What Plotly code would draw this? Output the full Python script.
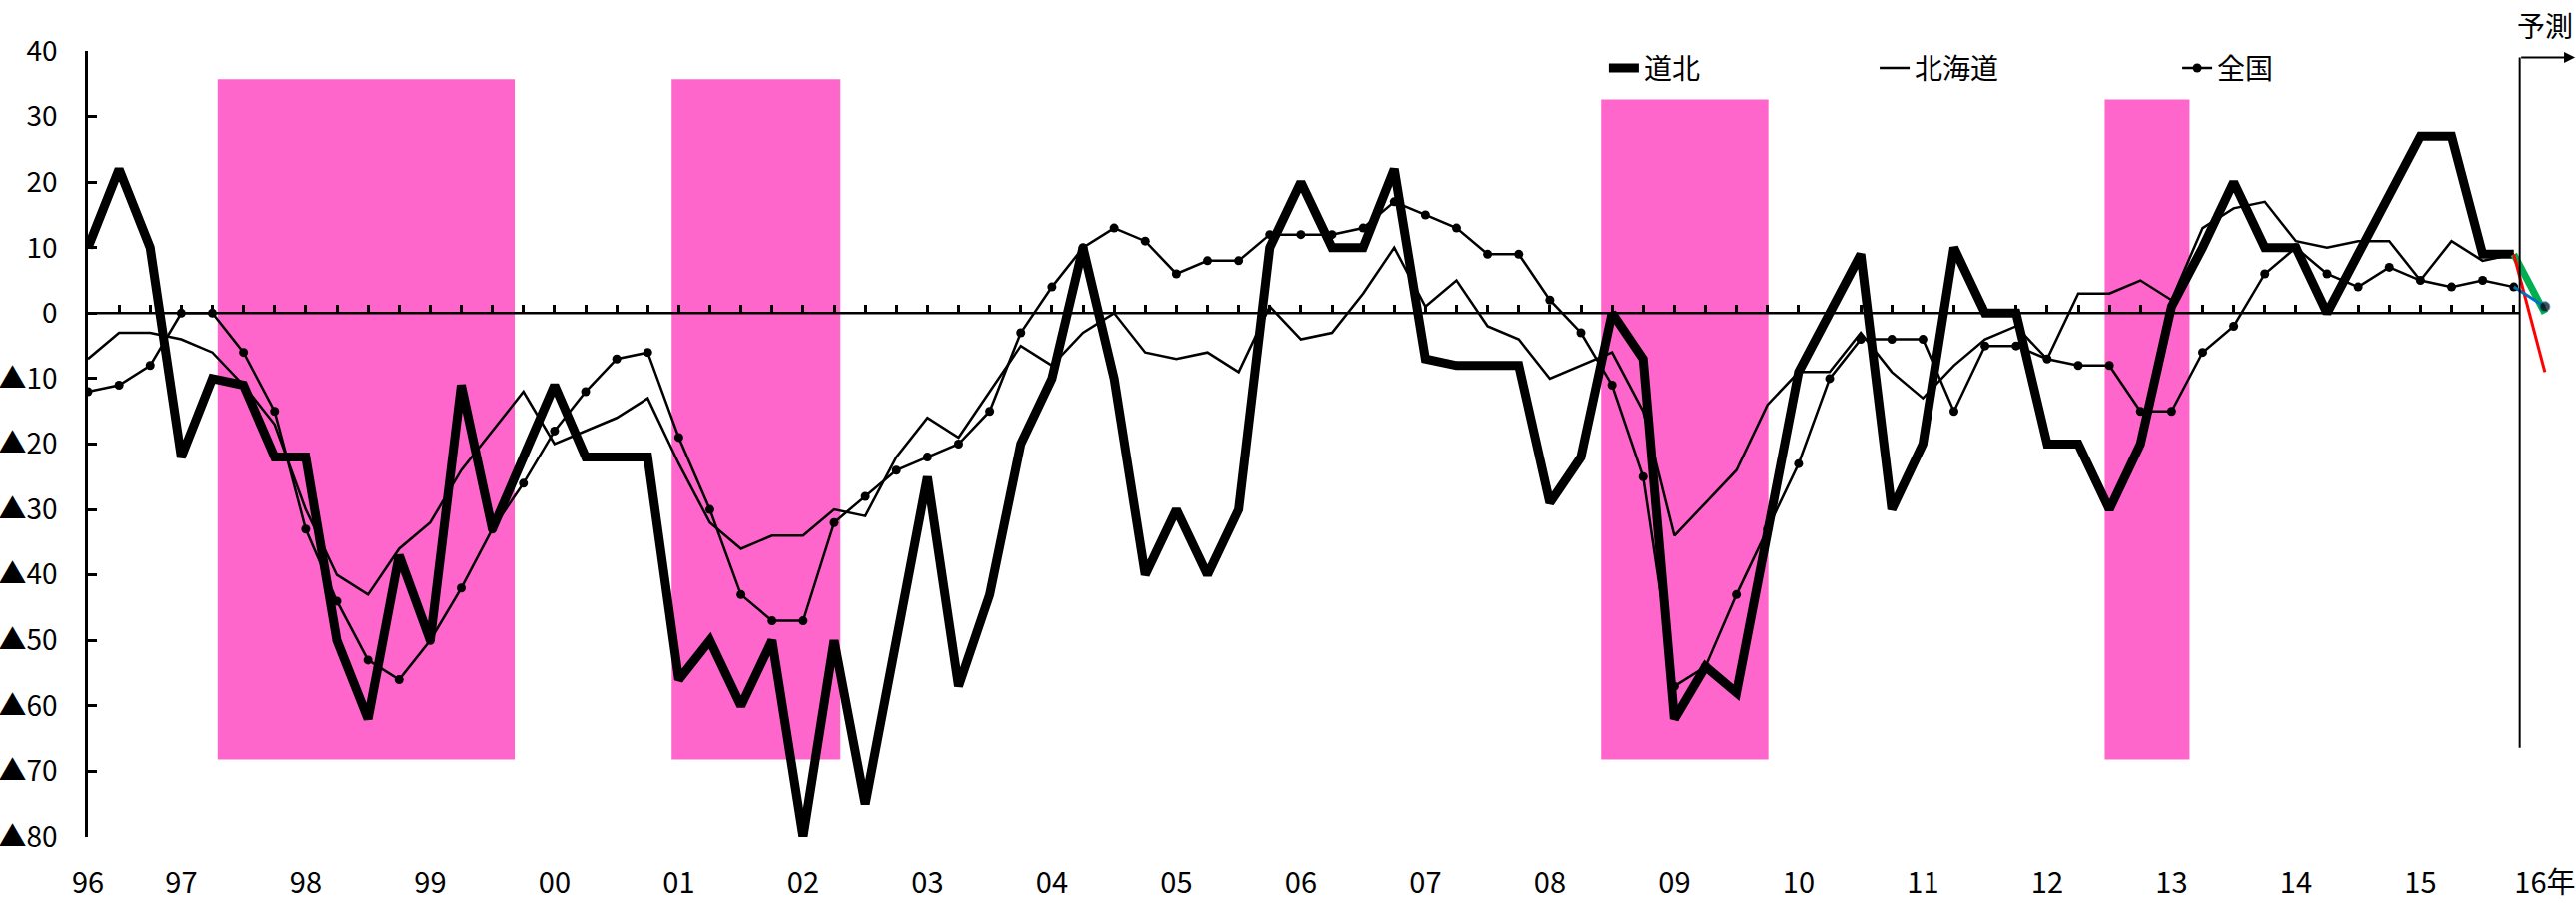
import pandas as pd
import plotly.graph_objects as go

# Quarterly business survey index (BSI): 1996Q2 - 2015Q4 actual, 2016Q1 forecast
quarters = [str(p) for p in pd.period_range("1996Q2", "2016Q1", freq="Q")]

dohoku = [
    10, 22, 10, -22, -10, -11, -22, -22, -50, -62, -37, -50, -11, -33, -22, -11,
    -22, -22, -22, -56, -50, -60, -50, -80, -50, -75, -50, -25, -57, -43, -20, -10,
    10, -10, -40, -30, -40, -30, 10, 20, 10, 10, 22, -7, -8, -8, -8, -29,
    -22, 0, -7, -62, -54, -58, -33, -9, 0, 9, -30, -20, 10, 0, 0, -20,
    -20, -30, -20, 1, 10, 20, 10, 10, 0, 9, 18, 27, 27, 9, 9,
]
hokkaido = [
    -7, -3, -3, -4, -6, -11, -17, -30, -40, -43, -36, -32, -24, -18, -12, -20,
    -18, -16, -13, -23, -32, -36, -34, -34, -30, -31, -22, -16, -19, -12, -5, -8,
    -3, 0, -6, -7, -6, -9, 1, -4, -3, 3, 10, 1, 5, -2, -4, -10,
    -8, -6, -15, -34, -29, -24, -14, -9, -9, -3, -9, -13, -8, -4, -2, -7,
    3, 3, 5, 2, 13, 16, 17, 11, 10, 11, 11, 5, 11, 8, 9,
]
zenkoku = [
    -12, -11, -8, 0, 0, -6, -15, -33, -44, -53, -56, -50, -42, -33, -26, -18,
    -12, -7, -6, -19, -30, -43, -47, -47, -32, -28, -24, -22, -20, -15, -3, 4,
    10, 13, 11, 6, 8, 8, 12, 12, 12, 13, 17, 15, 13, 9, 9, 2,
    -3, -11, -25, -57, -54, -43, -33, -23, -10, -4, -4, -4, -15, -5, -5, -7,
    -8, -8, -15, -15, -6, -2, 6, 10, 6, 4, 7, 5, 4, 5, 4,
]

# forecast for 2016Q1
dohoku_fc = 0
hokkaido_fc = -9
zenkoku_fc = 1

year_labels = ["96", "97", "98", "99", "00", "01", "02", "03", "04", "05",
               "06", "07", "08", "09", "10", "11", "12", "13", "14", "15", "16年"]
y_ticks = [-80, -70, -60, -50, -40, -30, -20, -10, 0, 10, 20, 30, 40]

# shaded recession periods (quarter-index units: start, end, top)
recessions = [(4.17, 13.72, 35.7), (18.77, 24.2, 35.7),
              (48.65, 54.03, 32.6), (64.85, 67.58, 32.6)]

FONT = "Noto Sans CJK JP"
n = len(dohoku)
x_act = list(range(n))
x_fc = [n - 1, n]
year_pos = [0] + [quarters.index(f"{1997 + i}Q1") for i in range(len(year_labels) - 1)]
y_text = [f"▲{-v}" if v < 0 else str(v) for v in y_ticks]

fig = go.Figure()
fig.add_trace(go.Scatter(x=x_act, y=dohoku, mode="lines", name="道北",
                         line=dict(color="black", width=9), legend="legend",
                         customdata=quarters[:n], hovertemplate="%{customdata}: %{y}<extra>道北</extra>"))
fig.add_trace(go.Scatter(x=x_act, y=hokkaido, mode="lines", name="北海道",
                         line=dict(color="black", width=2.5), legend="legend2",
                         customdata=quarters[:n], hovertemplate="%{customdata}: %{y}<extra>北海道</extra>"))
fig.add_trace(go.Scatter(x=x_act, y=zenkoku, mode="lines+markers", name="全国",
                         line=dict(color="black", width=2.5), marker=dict(color="black", size=9),
                         legend="legend3",
                         customdata=quarters[:n], hovertemplate="%{customdata}: %{y}<extra>全国</extra>"))

# forecast segments (drawn on the overlaid quarter axis, same scale as the main one)
fig.add_trace(go.Scatter(x=x_fc, y=[dohoku[-1], dohoku_fc], mode="lines", xaxis="x2",
                         line=dict(color="#00B050", width=7), showlegend=False))
fig.add_trace(go.Scatter(x=x_fc, y=[hokkaido[-1], hokkaido_fc], mode="lines", xaxis="x2",
                         line=dict(color="#FF0000", width=3), showlegend=False))
fig.add_trace(go.Scatter(x=x_fc, y=[zenkoku[-1], zenkoku_fc], mode="lines+markers", xaxis="x2",
                         line=dict(color="#0070C0", width=3),
                         marker=dict(color="black", size=[0, 10]), showlegend=False))

shapes = []
for x0, x1, top in recessions:
    shapes.append(dict(type="rect", xref="x", yref="y", x0=x0, x1=x1, y0=-68.2, y1=top,
                       fillcolor="#FF66CC", line=dict(width=0), layer="below"))
fc_edge = 78.19
shapes.append(dict(type="line", xref="x", yref="y", x0=0, x1=fc_edge, y0=0, y1=0,
                   line=dict(color="black", width=2.5), layer="below"))
shapes.append(dict(type="line", xref="x", yref="y", x0=fc_edge, x1=fc_edge, y0=-66.4, y1=39,
                   line=dict(color="black", width=2)))

annotations = [
    dict(x=79.97, y=39, ax=fc_edge, ay=39, xref="x", yref="y", axref="x", ayref="y",
         text="", showarrow=True, arrowhead=2, arrowsize=1.1, arrowwidth=2, arrowcolor="black"),
    dict(x=79, y=1.033, xref="x", yref="paper", text="予測", showarrow=False,
         font=dict(size=28, family=FONT, color="black"), xanchor="center", yanchor="middle"),
]

leg_common = dict(y=0.978, yanchor="middle", xanchor="left", bgcolor="rgba(0,0,0,0)",
                  font=dict(size=28, family=FONT, color="black"))

fig.update_layout(
    width=2578, height=914,
    margin=dict(l=88, r=0, t=51, b=76),
    paper_bgcolor="white", plot_bgcolor="white",
    font=dict(family=FONT, color="black"),
    shapes=shapes, annotations=annotations,
    legend=dict(x=0.6092, **leg_common),
    legend2=dict(x=0.7181, **leg_common),
    legend3=dict(x=0.8398, **leg_common),
    xaxis=dict(range=[0, 80], showline=False, ticks="", showgrid=False, zeroline=False,
               tickmode="array", tickvals=year_pos, ticktext=year_labels,
               tickfont=dict(size=29, family=FONT), ticklabelstandoff=26),
    xaxis2=dict(overlaying="x", anchor="free", position=2 / 3, range=[0, 80],
                tickmode="array", tickvals=x_act, ticks="inside", ticklen=8, tickwidth=2.5,
                tickcolor="black", showticklabels=False, showline=False, showgrid=False,
                zeroline=False),
    yaxis=dict(range=[-80, 40], showline=True, linecolor="black", linewidth=2.5,
               ticks="inside", ticklen=9, tickwidth=2.5, tickcolor="black",
               tickmode="array", tickvals=y_ticks, ticktext=y_text,
               tickfont=dict(size=28, family=FONT), showgrid=False, zeroline=False,
               ticklabelstandoff=22),
)

fig.write_html("out.html")
